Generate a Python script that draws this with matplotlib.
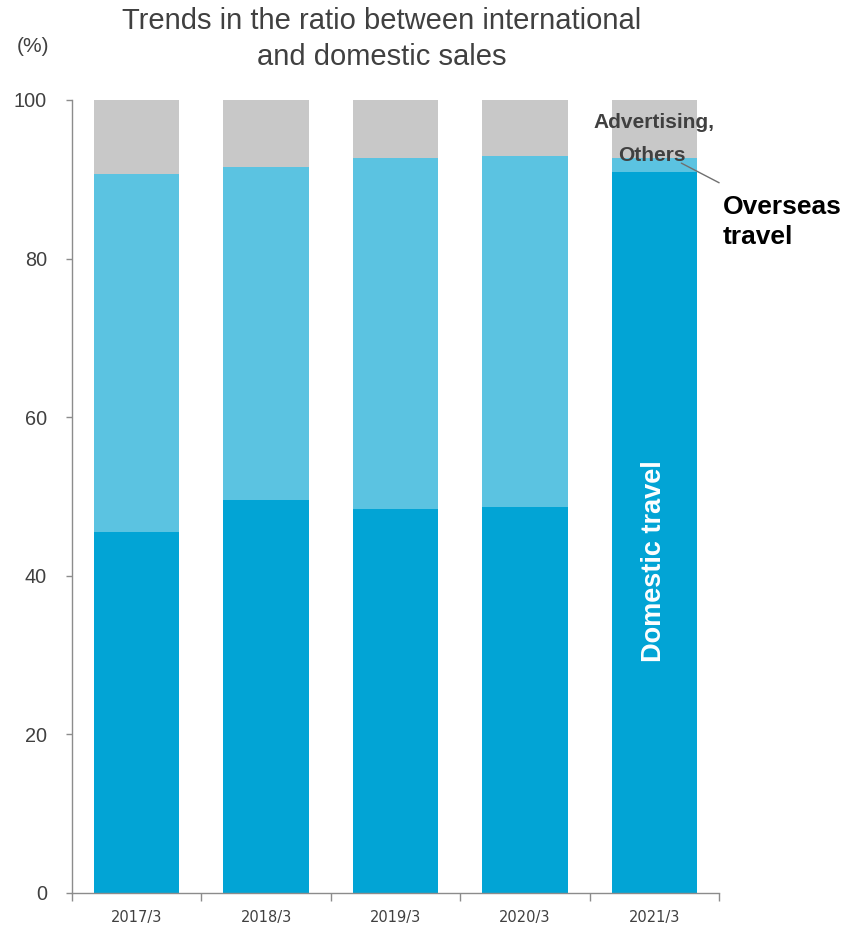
import matplotlib
matplotlib.use("Agg")
import matplotlib.pyplot as plt
import numpy as np

categories = ["2017/3", "2018/3", "2019/3", "2020/3", "2021/3"]
domestic = [45.5, 49.6, 48.4, 48.7, 90.9]
overseas = [45.2, 41.95, 44.3, 44.2, 1.8]
others = [100 - d - o for d, o in zip(domestic, overseas)]
y_ticks = [0, 20, 40, 60, 80, 100]

c_dom = "#02A4D5"
c_ovs = "#5BC3E1"
c_oth = "#C8C8C8"
txt = "#404040"

plt.rcParams['font.family'] = ['Liberation Sans', 'DejaVu Sans']

fig = plt.figure(figsize=(8.46, 9.31), dpi=100)
ax = fig.add_axes([72/846, 38/931, (719-72)/846, (893-100)/931])

x = np.arange(len(categories))
w = 0.66
ax.bar(x, domestic, w, color=c_dom, linewidth=0)
ax.bar(x, overseas, w, bottom=domestic, color=c_ovs, linewidth=0)
ax.bar(x, others, w, bottom=np.array(domestic) + np.array(overseas), color=c_oth, linewidth=0)

ax.set_xlim(-0.5, len(categories) - 0.5)
ax.set_ylim(0, 100)
ax.set_yticks(y_ticks)
ax.set_yticklabels([str(v) for v in y_ticks], fontsize=14.3, color=txt)
ax.set_xticks(x)
ax.set_xticklabels(categories, fontsize=10.5, color=txt, family='DejaVu Sans')
ax.set_xticks(np.arange(-0.5, len(categories)), minor=True)
ax.tick_params(axis='x', which='major', length=0, pad=12)
ax.tick_params(axis='x', which='minor', length=6, color='#8c8c8c', width=1)
ax.tick_params(axis='y', length=4, color='#8c8c8c', width=1, pad=14)
for s in ['top', 'right']:
    ax.spines[s].set_visible(False)
for s in ['left', 'bottom']:
    ax.spines[s].set_color('#8c8c8c')
    ax.spines[s].set_linewidth(1)

fig.text(382/846, 1 - 39/931, "Trends in the ratio between international\nand domestic sales",
         ha='center', va='center', fontsize=21, color=txt, linespacing=1.35)
fig.text(33/846, 1 - 47/931, "(%)", ha='center', va='center', fontsize=15, color=txt)

ax.text(4, 97.2, "Advertising,", ha='center', va='center', fontsize=15,
        fontweight='bold', color=txt)
ax.text(3.98, 93.0, "Others", ha='center', va='center', fontsize=15,
        fontweight='bold', color=txt)
ax.annotate("", xy=(4.52, 89.4), xytext=(4.19, 92.2),
            arrowprops=dict(arrowstyle='-', color='#707070', lw=1),
            annotation_clip=False)
ax.text(4.53, 84.6, "Overseas\ntravel", ha='left', va='center', fontsize=19,
        fontweight='bold', color='black', linespacing=1.35, clip_on=False)
ax.text(4, 41.8, "Domestic travel", ha='center', va='center', rotation=90,
        fontsize=19.5, fontweight='bold', color='white')

fig.savefig("out.png", dpi=100)
